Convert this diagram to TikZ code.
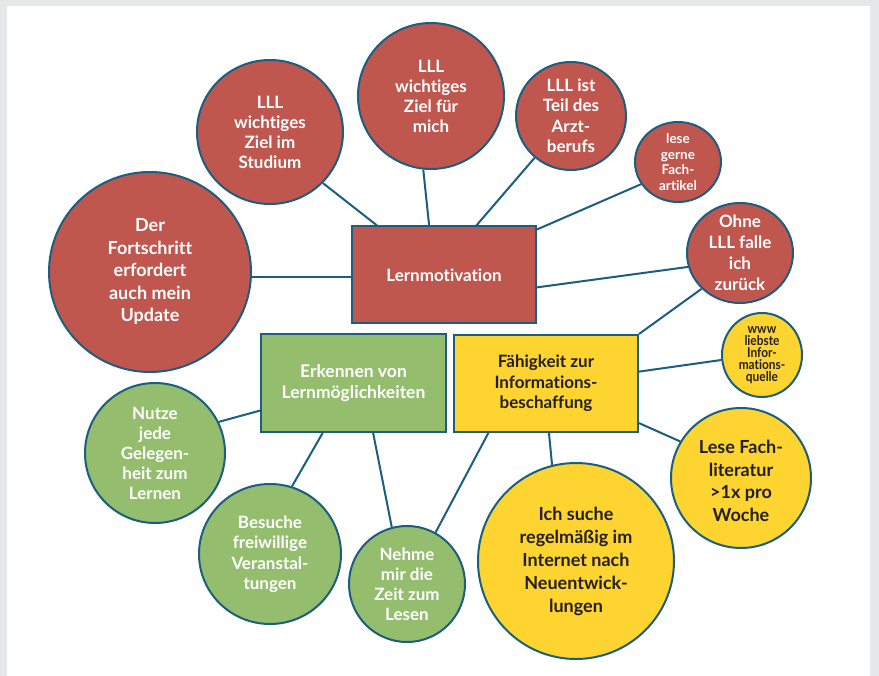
\documentclass[tikz,border=0pt]{standalone}
\usepackage{fontspec}
\setmainfont{Lato}[Ligatures=NoCommon]
\usetikzlibrary{shapes.geometric,calc}
\definecolor{lred}{HTML}{C0574F}
\definecolor{lgreen}{HTML}{94BD6E}
\definecolor{lyellow}{HTML}{FDD430}
\definecolor{edge}{HTML}{1B5E7F}
\definecolor{bggray}{HTML}{E6E7E8}
\definecolor{ink}{HTML}{231F20}
\begin{document}
\begin{tikzpicture}[x=1pt,y=-1pt,
  bub/.style={ellipse,draw=edge,line width=2pt,inner sep=0pt},
  box/.style={rectangle,draw=edge,line width=2pt,inner sep=0pt,minimum width=184pt,minimum height=97pt},
  conn/.style={draw=edge,line width=2pt},
  wt/.style={text=white,font=\fontsize{17}{20.5}\selectfont\bfseries,align=center,inner sep=0pt},
  bt/.style={text=ink,font=\fontsize{17}{20.5}\selectfont\bfseries,align=center,inner sep=0pt}]
\useasboundingbox (0,0) rectangle (879,676);
\fill[bggray] (0,0) rectangle (879,676);
\fill[white] (7,6) rectangle (870,676);

% central boxes
\node[box,fill=lred] (lm) at (444,275) {};
\node[wt] (tlm) at (lm) {Lernmotivation};
\node[box,fill=lgreen,minimum width=185pt,minimum height=98pt] (ek) at (353.5,383) {};
\node[wt,font=\fontsize{17.5}{21.7}\selectfont\bfseries] (tek) at (ek) {Erkennen von\\Lernmöglichkeiten};
\node[box,fill=lyellow] (fa) at (546,383.5) {};
\node[bt] (tfa) at (fa) {Fähigkeit zur\\Informations-\\beschaffung};

% red bubbles
\node[bub,fill=lred,minimum width=146pt,minimum height=144pt] (c1) at (270,132) {};
\node[wt,font=\fontsize{17}{20}\selectfont\bfseries] (t1) at (c1) {LLL\\wichtiges\\Ziel im\\Studium};
\node[bub,fill=lred,minimum width=146pt,minimum height=146pt] (c2) at (431,96) {};
\node[wt,font=\fontsize{17}{20}\selectfont\bfseries] (t2) at (c2) {LLL\\wichtiges\\Ziel für\\mich};
\node[bub,fill=lred,minimum width=110pt,minimum height=108pt] (c3) at (571,116) {};
\node[wt] (t3) at (c3) {LLL ist\\Teil des\\Arzt-\\berufs};
\node[bub,fill=lred,minimum width=86pt,minimum height=80pt] (c4) at (678,162) {};
\node[wt,font=\fontsize{13.5}{15.7}\selectfont\bfseries] (t4) at (c4) {lese\\gerne\\Fach-\\artikel};
\node[bub,fill=lred,minimum width=202pt,minimum height=200pt] (c5) at (150,272) {};
\node[wt,font=\fontsize{18}{22.5}\selectfont\bfseries] (t5) at (c5) {Der\\Fortschritt\\erfordert\\auch mein\\Update};
\node[bub,fill=lred,minimum width=106pt,minimum height=100pt] (c6) at (740,253) {};
\node[wt,font=\fontsize{17}{21}\selectfont\bfseries] (t6) at (c6) {Ohne\\LLL falle\\ich\\zurück};

% yellow bubbles
\node[bub,fill=lyellow,minimum width=80pt,minimum height=84pt] (c7) at (762,355) {};
\node[bt,font=\fontsize{13.5}{12}\selectfont\bfseries\addfontfeature{FakeStretch=0.88}] (t7) at (c7) {www\\liebste\\Infor-\\mations-\\quelle};
\node[bub,fill=lyellow,minimum width=140pt,minimum height=140pt] (c8) at (741,478) {};
\node[bt,font=\fontsize{18}{22.5}\selectfont\bfseries] (t8) at ($(c8)+(0,3)$) {Lese Fach-\\literatur\\>1x pro\\Woche};
\node[bub,fill=lyellow,minimum width=196pt,minimum height=196pt] (c9) at (576,561) {};
\node[bt,font=\fontsize{18}{23}\selectfont\bfseries] (t9) at (c9) {Ich suche\\regelmäßig im\\Internet nach\\Neuentwick-\\lungen};

% green bubbles
\node[bub,fill=lgreen,minimum width=116pt,minimum height=116pt] (c10) at (407,584) {};
\node[wt,font=\fontsize{17}{20}\selectfont\bfseries] (t10) at (c10) {Nehme\\mir die\\Zeit zum\\Lesen};
\node[bub,fill=lgreen,minimum width=142pt,minimum height=140pt] (c11) at (270,554) {};
\node[wt] (t11) at (c11) {Besuche\\freiwillige\\Veranstal-\\tungen};
\node[bub,fill=lgreen,minimum width=140pt,minimum height=140pt] (c12) at (155,453) {};
\node[wt,font=\fontsize{17}{20}\selectfont\bfseries] (t12) at (c12) {Nutze\\jede\\Gelegen-\\heit zum\\Lernen};

% connectors
\draw[conn] (c1.-44) -- ($(lm.north west)!0.14!(lm.north east)$);
\draw[conn] (c2.-96) -- ($(lm.north west)!0.42!(lm.north east)$);
\draw[conn] (c3.-131) -- ($(lm.north west)!0.674!(lm.north east)$);
\draw[conn] (c4.-149) -- ($(lm.north east)!0.04!(lm.south east)$);
\draw[conn] (c5.-3) -- (c5.-3 -| lm.west);
\draw[conn] (c6.-165) -- ($(lm.north east)!0.625!(lm.south east)$);
\draw[conn] (c6.-137) -- (fa.north east);
\draw[conn] (c7.-173) -- ($(fa.north east)!0.38!(fa.south east)$);
\draw[conn] (c8.149.5) -- ($(fa.north east)!0.9!(fa.south east)$);
\draw[conn] (c9.104) -- ($(fa.south west)!0.516!(fa.south east)$);
\draw[conn] (c10.61.7) -- ($(fa.south west)!0.19!(fa.south east)$);
\draw[conn] (c10.105.7) -- ($(ek.south west)!0.605!(ek.south east)$);
\draw[conn] (c11.72.3) -- ($(ek.south west)!0.335!(ek.south east)$);
\draw[conn] (c12.26) -- ($(ek.north west)!0.776!(ek.south west)$);
\end{tikzpicture}
\end{document}
